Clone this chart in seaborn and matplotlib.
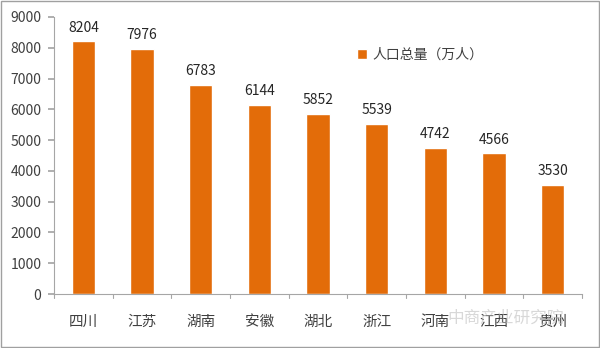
import matplotlib
matplotlib.use("Agg")
import matplotlib.pyplot as plt
import seaborn as sns
import pandas as pd
from matplotlib.patches import Rectangle

categories = ["四川", "江苏", "湖南", "安徽", "湖北", "浙江", "河南", "江西", "贵州"]
values = [8204, 7976, 6783, 6144, 5852, 5539, 4742, 4566, 3530]
series_name = "人口总量（万人）"
yticks = [0, 1000, 2000, 3000, 4000, 5000, 6000, 7000, 8000, 9000]

sns.set_theme(style="white")
plt.rcParams['font.family'] = ['Noto Sans CJK SC', 'DejaVu Sans']

df = pd.DataFrame({"cat": categories, "val": values, "s": series_name})

fig = plt.figure(figsize=(6.0, 3.48), dpi=100)
ax = fig.add_axes([54/600, 1-294/348, 528/600, (294-17)/348])
color = "#E36C09"
sns.barplot(data=df, x="cat", y="val", hue="s", palette=[color], width=0.4,
            ax=ax, saturation=1, legend=True)

ax.set_ylim(0, 9000)
ax.set_xlim(-0.5, len(categories) - 0.5)
ax.set_yticks(yticks)
ax.set_yticklabels([str(t) for t in yticks], fontsize=10, color="#404040")
ax.set_xlabel("")
ax.set_ylabel("")
ax.tick_params(axis="x", length=0, labelsize=10.5, labelcolor="#404040", pad=15)
ax.tick_params(axis="y", length=4, color="#A6A6A6", direction="out", left=True, pad=5)

for s in ["top", "right"]:
    ax.spines[s].set_visible(False)
for s in ["left", "bottom"]:
    ax.spines[s].set_color("#A6A6A6")
    ax.spines[s].set_linewidth(0.8)

# category boundary ticks on x axis
for i in range(len(categories) + 1):
    ax.plot([i - 0.5, i - 0.5], [0, -130], color="#A6A6A6", lw=0.8, clip_on=False)

for c in ax.containers:
    ax.bar_label(c, labels=[str(v) for v in values], padding=5, fontsize=10, color="#262626")

leg = ax.legend(loc="upper left", bbox_to_anchor=(0.55, 0.935), frameon=False,
                fontsize=10, handlelength=0.7, handleheight=0.7, handletextpad=0.4)
for t in leg.get_texts():
    t.set_color("#404040")

# watermark
fig.text(0.745, 0.085, "中商产业研究院", fontsize=12, color="#B8B8B8", alpha=0.55,
         ha="left", va="center")

# figure border
fig.patches.append(Rectangle((0.001, 0.002), 0.997, 0.995, transform=fig.transFigure,
                             fill=False, edgecolor="#A0A0A0", lw=1.0))

fig.savefig("out.png", dpi=100)
